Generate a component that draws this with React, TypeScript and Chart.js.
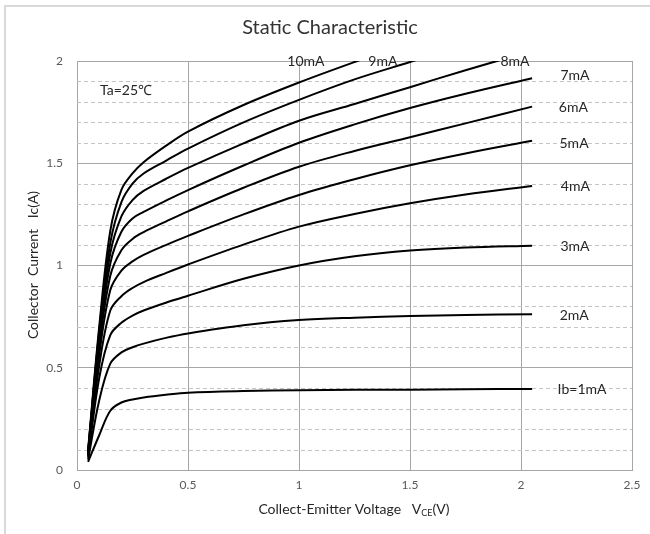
import React, { useEffect, useRef } from "react";
import { Chart, registerables } from "chart.js";

Chart.register(...registerables);

// Collector-emitter voltage sample points (V)
const vce = [0.05, 0.1, 0.15, 0.2, 0.25, 0.3, 0.4, 0.5, 0.75, 1.0, 1.25, 1.5, 1.75, 2.05];

// Collector current (A) per base current
const ic1mA = [0.04, 0.17, 0.29, 0.33, 0.345, 0.355, 0.368, 0.378, 0.386, 0.39, 0.392, 0.393, 0.395, 0.396];
const ic2mA = [0.05, 0.34, 0.52, 0.575, 0.6, 0.618, 0.646, 0.668, 0.708, 0.733, 0.745, 0.753, 0.758, 0.762];
const ic3mA = [0.06, 0.45, 0.66, 0.72, 0.755, 0.78, 0.818, 0.852, 0.935, 1.0, 1.045, 1.073, 1.088, 1.097];
const ic4mA = [0.07, 0.51, 0.78, 0.85, 0.89, 0.919, 0.963, 1.005, 1.102, 1.19, 1.252, 1.304, 1.347, 1.389];
const ic5mA = [0.07, 0.56, 0.88, 0.975, 1.02, 1.052, 1.1, 1.145, 1.25, 1.345, 1.422, 1.49, 1.548, 1.61];
const ic6mA = [0.08, 0.6, 0.95, 1.075, 1.13, 1.163, 1.215, 1.265, 1.38, 1.483, 1.56, 1.627, 1.695, 1.777];
const ic7mA = [0.08, 0.63, 1.01, 1.165, 1.23, 1.262, 1.317, 1.369, 1.489, 1.6, 1.69, 1.77, 1.84, 1.916];
const ic8mA = [0.09, 0.66, 1.06, 1.24, 1.32, 1.365, 1.423, 1.477, 1.597, 1.708, 1.79, 1.872, 1.955, 2.05];
const ic9mA = [0.09, 0.68, 1.11, 1.31, 1.4, 1.45, 1.512, 1.572, 1.7, 1.81, 1.91, 1.995, 2.08, 2.17];
const ic10mA = [0.1, 0.7, 1.17, 1.37, 1.45, 1.505, 1.585, 1.655, 1.785, 1.895, 1.995, 2.09, 2.18, 2.28];

const seriesNames = ["Ib=1mA", "2mA", "3mA", "4mA", "5mA", "6mA", "7mA", "8mA", "9mA", "10mA"];
const seriesValues = [ic1mA, ic2mA, ic3mA, ic4mA, ic5mA, ic6mA, ic7mA, ic8mA, ic9mA, ic10mA];

// Curve label anchors in data units (V, A)
const labelVce = [2.275, 2.24, 2.243, 2.245, 2.239, 2.236, 2.243, 1.973, 1.378, 1.031];
const labelIc = [0.396, 0.758, 1.095, 1.384, 1.599, 1.775, 1.927, 2.0, 2.0, 2.0];

const xMin = 0, xMax = 2.5, xStep = 0.5;
const yMin = 0, yMax = 2, yStep = 0.5, yMinorStep = 0.1;

const titleText = "Static Characteristic";
const yTitleText = "Collector  Current   Ic(A)";
const xTitleMain = "Collect-Emitter Voltage   V";
const xTitleSub = "CE";
const xTitleTail = "(V)";
const tempNote = "Ta=25\u2103";

const FONT = "Lato, 'Noto Sans', sans-serif";

export default function App() {
  const ref = useRef<HTMLCanvasElement | null>(null);

  useEffect(() => {
    document.body.style.margin = "0";
    const canvas = ref.current;
    if (!canvas) return;

    const decor = {
      id: "decor",
      beforeDraw(chart: any) {
        const { ctx, width, height } = chart;
        ctx.save();
        ctx.fillStyle = "#ffffff";
        ctx.fillRect(0, 0, width, height);
        ctx.strokeStyle = "#d9d9d9";
        ctx.lineWidth = 2;
        ctx.beginPath();
        ctx.moveTo(5, height);
        ctx.lineTo(5, 6);
        ctx.lineTo(width, 6);
        ctx.stroke();
        ctx.restore();
      },
      beforeDatasetsDraw(chart: any) {
        const { ctx, chartArea } = chart;
        const y = chart.scales.y;
        ctx.save();
        ctx.strokeStyle = "#c4c4c4";
        ctx.lineWidth = 1;
        ctx.setLineDash([4, 3]);
        const n = Math.round((yMax - yMin) / yMinorStep);
        const per = Math.round(yStep / yMinorStep);
        for (let i = 1; i < n; i++) {
          if (i % per === 0) continue;
          const py = Math.round(y.getPixelForValue(yMin + i * yMinorStep)) + 0.5;
          ctx.beginPath();
          ctx.moveTo(chartArea.left, py);
          ctx.lineTo(chartArea.right, py);
          ctx.stroke();
        }
        ctx.restore();
      },
      afterDraw(chart: any) {
        const { ctx } = chart;
        const xs = chart.scales.x;
        const ys = chart.scales.y;
        ctx.save();
        ctx.fillStyle = "#333333";
        ctx.font = `20px ${FONT}`;
        ctx.textAlign = "center";
        ctx.textBaseline = "middle";
        ctx.fillText(titleText, 330, 28);

        ctx.save();
        ctx.translate(33, 265);
        ctx.rotate(-Math.PI / 2);
        ctx.font = `14px ${FONT}`;
        ctx.fillStyle = "#262626";
        ctx.fillText(yTitleText, 0, 0);
        ctx.restore();

        ctx.fillStyle = "#262626";
        ctx.textAlign = "left";
        const mainFont = `14px ${FONT}`;
        const subFont = `9px ${FONT}`;
        ctx.font = mainFont;
        const w1 = ctx.measureText(xTitleMain).width;
        const w3 = ctx.measureText(xTitleTail).width;
        ctx.font = subFont;
        const w2 = ctx.measureText(xTitleSub).width;
        const total = w1 + w2 + w3;
        let cx = 354 - total / 2;
        const cy = 509;
        ctx.font = mainFont;
        ctx.fillText(xTitleMain, cx, cy);
        cx += w1;
        ctx.font = subFont;
        ctx.fillText(xTitleSub, cx, cy + 4);
        cx += w2;
        ctx.font = mainFont;
        ctx.fillText(xTitleTail, cx, cy);

        ctx.font = `14px ${FONT}`;
        ctx.textAlign = "center";
        ctx.fillStyle = "#262626";
        for (let i = 0; i < seriesNames.length; i++) {
          ctx.fillText(seriesNames[i], xs.getPixelForValue(labelVce[i]), ys.getPixelForValue(labelIc[i]));
        }

        ctx.textAlign = "left";
        ctx.fillText(tempNote, xs.getPixelForValue(0.104), ys.getPixelForValue(1.858));
        ctx.restore();
      },
    };

    const datasets = seriesValues.map((vals, i) => ({
      label: seriesNames[i],
      data: vals.map((v, j) => ({ x: vce[j], y: v })),
      borderColor: "#000000",
      borderWidth: 2,
      pointRadius: 0,
      fill: false,
      tension: 0.35,
    }));

    const fmt = (v: any) => String(Math.round(Number(v) * 10) / 10);

    const chart = new Chart(canvas, {
      type: "line",
      data: { datasets },
      options: {
        animation: false,
        responsive: false,
        devicePixelRatio: 1,
        layout: { padding: { top: 61, right: 18, left: 0, bottom: 0 } },
        plugins: { legend: { display: false }, tooltip: { enabled: false }, title: { display: false } },
        scales: {
          x: {
            type: "linear",
            min: xMin,
            max: xMax,
            ticks: { stepSize: xStep, padding: 8, color: "#595959", font: { family: FONT, size: 12 }, maxRotation: 0, callback: fmt },
            grid: { color: "#a6a6a6", lineWidth: 1, drawTicks: false },
            border: { color: "#a6a6a6" },
            afterFit: (s: any) => { s.height = 64; },
          },
          y: {
            type: "linear",
            min: yMin,
            max: yMax,
            ticks: { stepSize: yStep, padding: 14, color: "#595959", font: { family: FONT, size: 12 }, callback: fmt },
            grid: { color: "#a6a6a6", lineWidth: 1, drawTicks: false },
            border: { color: "#a6a6a6" },
            afterFit: (s: any) => { s.width = 77; },
          },
        },
      },
      plugins: [decor],
    });

    return () => chart.destroy();
  }, []);

  return (
    <div style={{ width: 650, height: 534, position: "relative" }}>
      <canvas ref={ref} width={650} height={534} style={{ display: "block" }} />
    </div>
  );
}
